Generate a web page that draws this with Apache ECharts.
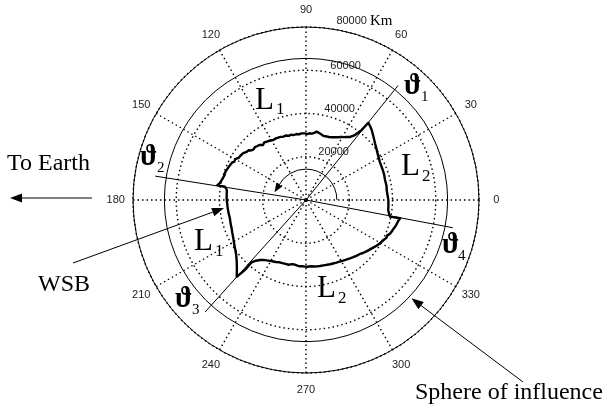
<!DOCTYPE html>
<html>
<head>
<meta charset="utf-8">
<script src="https://cdn.jsdelivr.net/npm/echarts@6/dist/echarts.min.js"></script>
<style>
  html, body { margin: 0; padding: 0; background: #fff; }
  #chart { width: 613px; height: 412px; }
</style>
</head>
<body>
<div id="chart"></div>
<script>
// Polar grid ticks
const angleTicks = [0, 30, 60, 90, 120, 150, 180, 210, 240, 270, 300, 330];
const radiusTicks = [20000, 40000, 60000, 80000];
const radiusMax = 80000;

// Weak stability boundary around the Moon: angle (deg) and distance (km)
const wsbAngle = [
  0, 3, 7.1, 10, 14.2, 18, 21, 23.7, 27, 30.9, 35, 39.4, 43, 46.8, 49, 51.1,
  51.5, 53, 55, 57, 59.3, 61, 63, 65, 66.5, 68, 70, 72, 74.9, 77, 79, 81.1, 83, 85, 87, 89, 91,
  92.3, 94, 96, 98, 101.1, 103, 105, 107, 109.7, 112, 114, 116,
  118.6, 119.5, 120.5, 121, 122, 123, 124, 125, 126, 127, 128, 129, 130, 131, 132, 133, 134, 135.5,
  136, 137, 138, 139, 140, 141, 142, 143.3, 144, 145, 146, 147, 148, 149, 150, 150.6, 151.5, 152,
  153, 154, 155, 156, 157, 157.8, 159, 160, 161, 162, 163, 164.3, 165, 166, 167, 168, 169, 170, 170.5,
  170.7, 171.5, 172.8, 175, 178.8, 182, 186.1, 190, 193.5, 197, 200.8, 204, 207.8, 211, 214.2,
  218, 221.7, 225, 227.9,
  228.9, 228.9, 230.5, 232.5, 235, 237, 239.5, 242, 244, 247,
  250.3, 251.5, 253, 254, 255, 256, 257.5, 259, 260, 261.9, 263, 264, 265.5, 267, 268, 269, 270,
  271.5, 273, 274, 275.5, 277, 278, 279.5, 281, 282, 283.5, 285, 286.5, 288, 289, 290.5, 292, 293,
  294.5, 296, 297.5, 299, 300, 301.5, 303, 304, 305.5, 307, 308, 309.5, 311, 312, 313.5, 315, 316,
  317.1, 318.5, 320, 321, 322, 323.5, 325, 326, 327, 328.5, 330, 331, 332.5, 334, 335, 336.5, 338,
  339, 340, 341.5, 342.4, 344, 345, 347, 349,
  348.8, 351, 353.1, 356, 360
];
const wsbRadius = [
  38100, 37800, 37600, 37800, 37700, 38000, 38100, 38200, 38400, 39000, 40000, 41300, 42700, 44400, 45200, 45900,
  41400, 37600, 35600, 34700, 33800, 33300, 32600, 32000, 31600, 31300, 31000, 30900, 30700, 31200, 31600, 32000, 31300, 30800, 30900, 30500, 30800,
  30600, 30900, 30500, 30800, 30600, 31000, 30700, 31200, 31100, 31500, 31100, 31700,
  31600, 32000, 31500, 32100, 31700, 31900, 32500, 32400, 32900, 32800, 32300, 32900, 33300, 33000, 33600, 33300, 34000, 34100,
  33700, 34400, 34200, 35100, 34800, 35300, 35800, 36200, 35800, 36400, 36600, 37000, 36800, 37300, 37800, 37500, 37900, 37600,
  38300, 38100, 38600, 38300, 38900, 38800, 39200, 38900, 39500, 39700, 39400, 39900, 39700, 40300, 40100, 40700, 40600, 41200, 41600,
  38000, 37200, 36900, 36800, 36700, 36500, 36400, 36300, 36200, 36500, 36800, 37300, 38000, 38800, 39700,
  41000, 42900, 45200, 47800,
  42900, 38200, 36400, 35000, 33800, 33300, 32700, 32200, 31900, 31300,
  31100, 30800, 31000, 30600, 31000, 30700, 30400, 30800, 30300, 30500, 30100, 30800, 30300, 30700, 30200, 30800, 30400,
  30900, 30300, 30700, 30500, 31000, 30600, 31100, 30700, 31200, 30900, 31300, 31000, 31500, 31200, 31700, 31400, 31900,
  31700, 32200, 31900, 32500, 32300, 32900, 32700, 33300, 33100, 33800, 33600, 34300, 34100, 34800, 34700, 35300, 35200,
  36000, 35900, 36800, 36600, 37300, 37400, 38200, 38000, 38900, 38800, 39700, 39500, 40300, 40400, 41100, 41000, 41800,
  41700, 42300, 42500, 43000, 43200, 43800, 43700, 44300,
  39600, 38800, 38300, 38200, 38100
];

// Boundary angles theta1..theta4 (deg) and the length of their guide lines (km)
const thetaAngle = [51.2, 171, 228, 349.3];
const thetaLength = [68000, 70600, 69700, 69100];

// Lunar sphere of influence (km)
const sphereRadius = 65500;

const chart = echarts.init(document.getElementById('chart'), null, { renderer: 'canvas' });

const dotted = { type: [1.5, 3], color: '#000', width: 1.4 };
const sansFont = 'Liberation Sans, Arial, sans-serif';
const serifFont = 'Liberation Serif, Times New Roman, serif';

chart.setOption({
  animation: false,
  backgroundColor: '#fff',
  polar: { center: [306, 200], radius: 173 },
  angleAxis: {
    type: 'value', min: 0, max: 360, interval: 30,
    startAngle: 0, clockwise: false,
    axisLine: { show: true, lineStyle: { color: '#000', width: 1 } },
    axisTick: { show: false },
    axisLabel: { show: false },
    splitLine: { show: true, lineStyle: dotted }
  },
  radiusAxis: {
    type: 'value', min: 0, max: radiusMax, interval: 20000,
    axisLine: { show: false },
    axisTick: { show: false },
    axisLabel: { show: false },
    splitLine: { show: true, lineStyle: dotted }
  },
  series: [
    {
      // theta1 - theta3 guide line
      type: 'line', coordinateSystem: 'polar', silent: true, symbol: 'none',
      data: [[thetaLength[0], thetaAngle[0]], [0, 0], [thetaLength[2], thetaAngle[2]]],
      lineStyle: { color: '#000', width: 1 }
    },
    {
      // theta2 - theta4 guide line
      type: 'line', coordinateSystem: 'polar', silent: true, symbol: 'none',
      data: [[thetaLength[1], thetaAngle[1]], [0, 0], [thetaLength[3], thetaAngle[3]]],
      lineStyle: { color: '#000', width: 1 }
    },
    {
      name: 'WSB',
      type: 'line', coordinateSystem: 'polar', silent: true, symbol: 'none',
      data: wsbAngle.map((a, i) => [wsbRadius[i], a]),
      lineStyle: { color: '#000', width: 2.4, join: 'round' }
    }
  ]
});

// Annotations positioned through the polar coordinate system
function toPx(r, a) { return chart.convertToPixel({ seriesIndex: 2 }, [r, a]); }
const c = toPx(0, 0);
// point at k times the given radius (allows positions beyond the outer ring)
function scaled(r, a, k) {
  const p = toPx(r, a);
  return [c[0] + (p[0] - c[0]) * k, c[1] + (p[1] - c[1]) * k];
}

function arrow(x1, y1, x2, y2, head, half) {
  const dx = x2 - x1, dy = y2 - y1, len = Math.hypot(dx, dy);
  const ux = dx / len, uy = dy / len;
  const bx = x2 - ux * head, by = y2 - uy * head;
  return [
    { type: 'line', shape: { x1: x1, y1: y1, x2: bx, y2: by }, style: { stroke: '#000', lineWidth: 1 }, silent: true },
    { type: 'polygon', shape: { points: [[x2, y2], [bx - uy * half, by + ux * half], [bx + uy * half, by - ux * half]] }, style: { fill: '#000' }, silent: true }
  ];
}

function text(x, y, str, size, opts) {
  return {
    type: 'text', x: x, y: y, silent: true,
    style: Object.assign({ text: str, fontFamily: serifFont, fontSize: size, fill: '#000', align: 'left', verticalAlign: 'middle' }, opts || {})
  };
}

function head(base, tip, len, half) {
  const dx = tip[0] - base[0], dy = tip[1] - base[1], l = Math.hypot(dx, dy);
  const ux = dx / l, uy = dy / l;
  const bx = tip[0] - ux * len, by = tip[1] - uy * len;
  return { type: 'polygon', silent: true, shape: { points: [tip, [bx - uy * half, by + ux * half], [bx + uy * half, by - ux * half]] }, style: { fill: '#000' } };
}

const sEdge = toPx(sphereRadius, 0);
const sphR = Math.hypot(sEdge[0] - c[0], sEdge[1] - c[1]);
const arcEdge = toPx(14300, 0);
const arcR = Math.hypot(arcEdge[0] - c[0], arcEdge[1] - c[1]);
const arcEnd = 152;
const arcTip = toPx(15000, 166);
const arcBase = [c[0] + arcR * Math.cos(arcEnd * Math.PI / 180), c[1] - arcR * Math.sin(arcEnd * Math.PI / 180)];
const wsbTip = toPx(38100, 185.6);
const sphTip = toPx(66700, 317);

const tickLabels = [];
angleTicks.forEach(a => {
  const p = scaled(radiusMax, a, 1.1);
  tickLabels.push({
    type: 'text', x: p[0], y: p[1], silent: true,
    style: { text: String(a), fontFamily: sansFont, fontSize: 11, fill: '#222', align: 'center', verticalAlign: 'middle' }
  });
});
radiusTicks.forEach(v => {
  const q = scaled(radiusMax, 82, (v + 1000) / radiusMax);
  tickLabels.push({
    type: 'text', x: q[0] + 6, y: q[1] + 2, silent: true,
    style: {
      text: v === radiusMax ? v + ' {k|Km}' : String(v),
      fontFamily: sansFont, fontSize: 11, fill: '#222', align: 'left', verticalAlign: 'bottom',
      rich: { k: { fontFamily: serifFont, fontSize: 15, fill: '#000' } }
    }
  });
});

const elements = [
  { type: 'circle', silent: true, shape: { cx: c[0], cy: c[1], r: sphR }, style: { fill: null, stroke: '#000', lineWidth: 1 } },
  { type: 'arc', silent: true, shape: { cx: c[0], cy: c[1], r: arcR, startAngle: 0, endAngle: -arcEnd * Math.PI / 180, clockwise: false }, style: { fill: null, stroke: '#000', lineWidth: 1 } },
  head(arcBase, arcTip, 9, 3.5),
  ...arrow(92, 198, 10, 198, 12, 4.5),
  ...arrow(73, 263, wsbTip[0], wsbTip[1], 12, 4.5),
  ...arrow(523, 382, sphTip[0], sphTip[1], 12, 4.5),
  ...tickLabels,
  text(7, 164, 'To Earth', 24),
  text(38, 285, 'WSB', 24),
  text(415, 393, 'Sphere of influence', 24),
  // region labels
  text(255, 101, 'L', 31), text(276, 110, '1', 17),
  text(401, 167, 'L', 31), text(422, 177, '2', 17),
  text(194, 242, 'L', 31), text(215, 252, '1', 17),
  text(317, 289, 'L', 31), text(338, 299, '2', 17),
  // boundary angle labels
  text(404, 87, '\u03D1', 29, { fontWeight: 'bold' }), text(421, 97, '1', 15),
  text(140, 158, '\u03D1', 29, { fontWeight: 'bold' }), text(157, 168, '2', 15),
  text(175, 300, '\u03D1', 29, { fontWeight: 'bold' }), text(192, 310, '3', 15),
  text(442, 246, '\u03D1', 29, { fontWeight: 'bold' }), text(458, 256, '4', 15)
];

chart.setOption({ graphic: { elements: elements } });
</script>
</body>
</html>
